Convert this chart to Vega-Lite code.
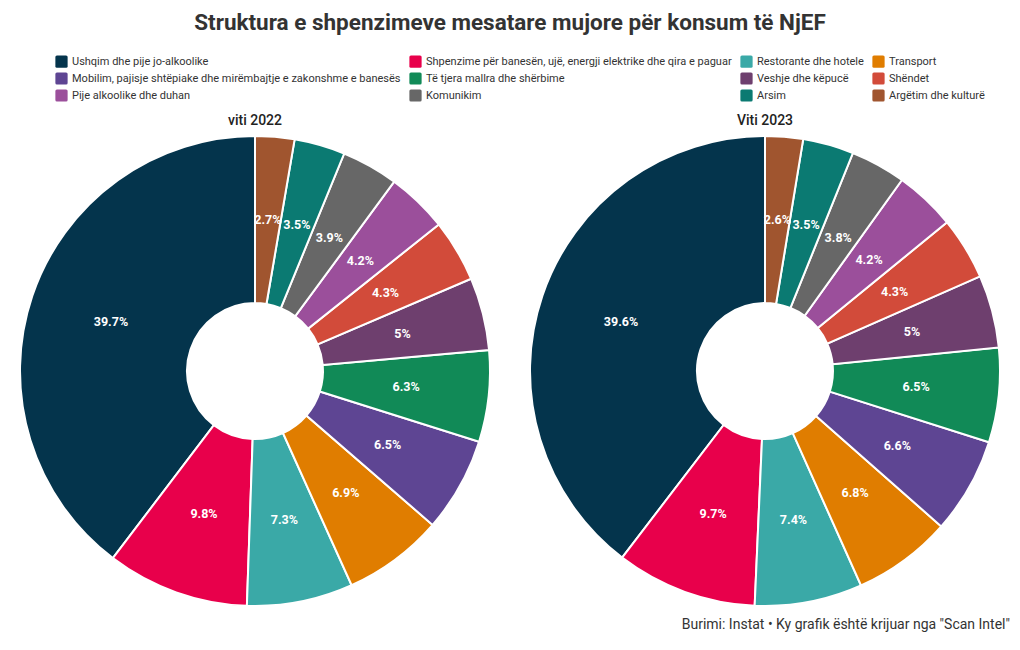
{
  "$schema": "https://vega.github.io/schema/vega-lite/v6.json",
  "background": "white",
  "padding": {"left": 10, "top": 11, "right": 10, "bottom": 4},
  "config": {"font": "Roboto", "view": {"stroke": null}, "concat": {"spacing": 20}},
  "datasets": {
    "d": [
      {"viti": 2022, "k": 1, "kategoria": "Ushqim dhe pije jo-alkoolike", "v": 39.7},
      {"viti": 2022, "k": 2, "kategoria": "Shpenzime për banesën, ujë, energji elektrike dhe qira e paguar", "v": 9.8},
      {"viti": 2022, "k": 3, "kategoria": "Restorante dhe hotele", "v": 7.3},
      {"viti": 2022, "k": 4, "kategoria": "Transport", "v": 6.9},
      {"viti": 2022, "k": 5, "kategoria": "Mobilim, pajisje shtëpiake dhe mirëmbajtje e zakonshme e banesës", "v": 6.5},
      {"viti": 2022, "k": 6, "kategoria": "Të tjera mallra dhe shërbime", "v": 6.3},
      {"viti": 2022, "k": 7, "kategoria": "Veshje dhe këpucë", "v": 5},
      {"viti": 2022, "k": 8, "kategoria": "Shëndet", "v": 4.3},
      {"viti": 2022, "k": 9, "kategoria": "Pije alkoolike dhe duhan", "v": 4.2},
      {"viti": 2022, "k": 10, "kategoria": "Komunikim", "v": 3.9},
      {"viti": 2022, "k": 11, "kategoria": "Arsim", "v": 3.5},
      {"viti": 2022, "k": 12, "kategoria": "Argëtim dhe kulturë", "v": 2.7},
      {"viti": 2023, "k": 1, "kategoria": "Ushqim dhe pije jo-alkoolike", "v": 39.6},
      {"viti": 2023, "k": 2, "kategoria": "Shpenzime për banesën, ujë, energji elektrike dhe qira e paguar", "v": 9.7},
      {"viti": 2023, "k": 3, "kategoria": "Restorante dhe hotele", "v": 7.4},
      {"viti": 2023, "k": 4, "kategoria": "Transport", "v": 6.8},
      {"viti": 2023, "k": 5, "kategoria": "Mobilim, pajisje shtëpiake dhe mirëmbajtje e zakonshme e banesës", "v": 6.6},
      {"viti": 2023, "k": 6, "kategoria": "Të tjera mallra dhe shërbime", "v": 6.5},
      {"viti": 2023, "k": 7, "kategoria": "Veshje dhe këpucë", "v": 5},
      {"viti": 2023, "k": 8, "kategoria": "Shëndet", "v": 4.3},
      {"viti": 2023, "k": 9, "kategoria": "Pije alkoolike dhe duhan", "v": 4.2},
      {"viti": 2023, "k": 10, "kategoria": "Komunikim", "v": 3.8},
      {"viti": 2023, "k": 11, "kategoria": "Arsim", "v": 3.5},
      {"viti": 2023, "k": 12, "kategoria": "Argëtim dhe kulturë", "v": 2.6}
    ]
  },
  "title": {
    "text": "Burimi: Instat • Ky grafik është krijuar nga \"Scan Intel\"",
    "orient": "bottom", "anchor": "end", "fontSize": 14, "fontWeight": "normal", "color": "#333333", "offset": 8
  },
  "vconcat": [
    {
      "title": {
        "text": "Struktura e shpenzimeve mesatare mujore për konsum të NjEF",
        "fontSize": 22.5, "fontWeight": "bold", "color": "#333333", "anchor": "middle", "offset": 80
      },
      "hconcat": [
        {
          "title": {"text": "viti 2022", "fontSize": 14, "fontWeight": 500, "color": "#222222", "offset": 4},
          "width": 490, "height": 470,
          "data": {"name": "d"},
          "transform": [{"filter": "datum.viti == 2022"}, {"calculate": "datum.v + '%'", "as": "lbl"}],
          "encoding": {
            "theta": {"field": "v", "type": "quantitative", "stack": true},
            "order": {"field": "k", "sort": "descending"}
          },
          "layer": [
            {
              "mark": {"type": "arc", "outerRadius": 235, "innerRadius": 68, "stroke": "white", "strokeWidth": 2},
              "encoding": {
                "color": {
                  "field": "kategoria", "type": "nominal",
                  "scale": {
                    "domain": ["Ushqim dhe pije jo-alkoolike", "Shpenzime për banesën, ujë, energji elektrike dhe qira e paguar", "Restorante dhe hotele", "Transport", "Mobilim, pajisje shtëpiake dhe mirëmbajtje e zakonshme e banesës", "Të tjera mallra dhe shërbime", "Veshje dhe këpucë", "Shëndet", "Pije alkoolike dhe duhan", "Komunikim", "Arsim", "Argëtim dhe kulturë"],
                    "range": ["#04344c", "#e8004b", "#3aa9a7", "#e07d00", "#5e4593", "#118a57", "#6e3f6e", "#d24b3a", "#9b4f9b", "#676767", "#0b7a72", "#a0552f"]
                  },
                  "legend": {
                    "title": null, "orient": "none", "direction": "horizontal", "legendX": 45, "legendY": -81, "columns": 4,
                    "symbolType": "M-0.75,-1H0.75Q1,-1 1,-0.75V0.75Q1,1 0.75,1H-0.75Q-1,1 -1,0.75V-0.75Q-1,-1 -0.75,-1Z",
                    "symbolSize": 150, "symbolStrokeWidth": 0, "labelFontSize": 11, "labelColor": "#333333",
                    "labelLimit": 400, "columnPadding": 8, "rowPadding": 4
                  }
                }
              }
            },
            {
              "mark": {"type": "text", "radius": 152, "fontSize": 12.5, "fontWeight": "bold", "color": "white"},
              "encoding": {"text": {"field": "lbl"}}
            }
          ]
        },
        {
          "title": {"text": "Viti 2023", "fontSize": 14, "fontWeight": 500, "color": "#222222", "offset": 4},
          "width": 490, "height": 470,
          "data": {"name": "d"},
          "transform": [{"filter": "datum.viti == 2023"}, {"calculate": "datum.v + '%'", "as": "lbl"}],
          "encoding": {
            "theta": {"field": "v", "type": "quantitative", "stack": true},
            "order": {"field": "k", "sort": "descending"}
          },
          "layer": [
            {
              "mark": {"type": "arc", "outerRadius": 235, "innerRadius": 68, "stroke": "white", "strokeWidth": 2},
              "encoding": {
                "color": {"field": "kategoria", "type": "nominal"}
              }
            },
            {
              "mark": {"type": "text", "radius": 152, "fontSize": 12.5, "fontWeight": "bold", "color": "white"},
              "encoding": {"text": {"field": "lbl"}}
            }
          ]
        }
      ]
    }
  ]
}
